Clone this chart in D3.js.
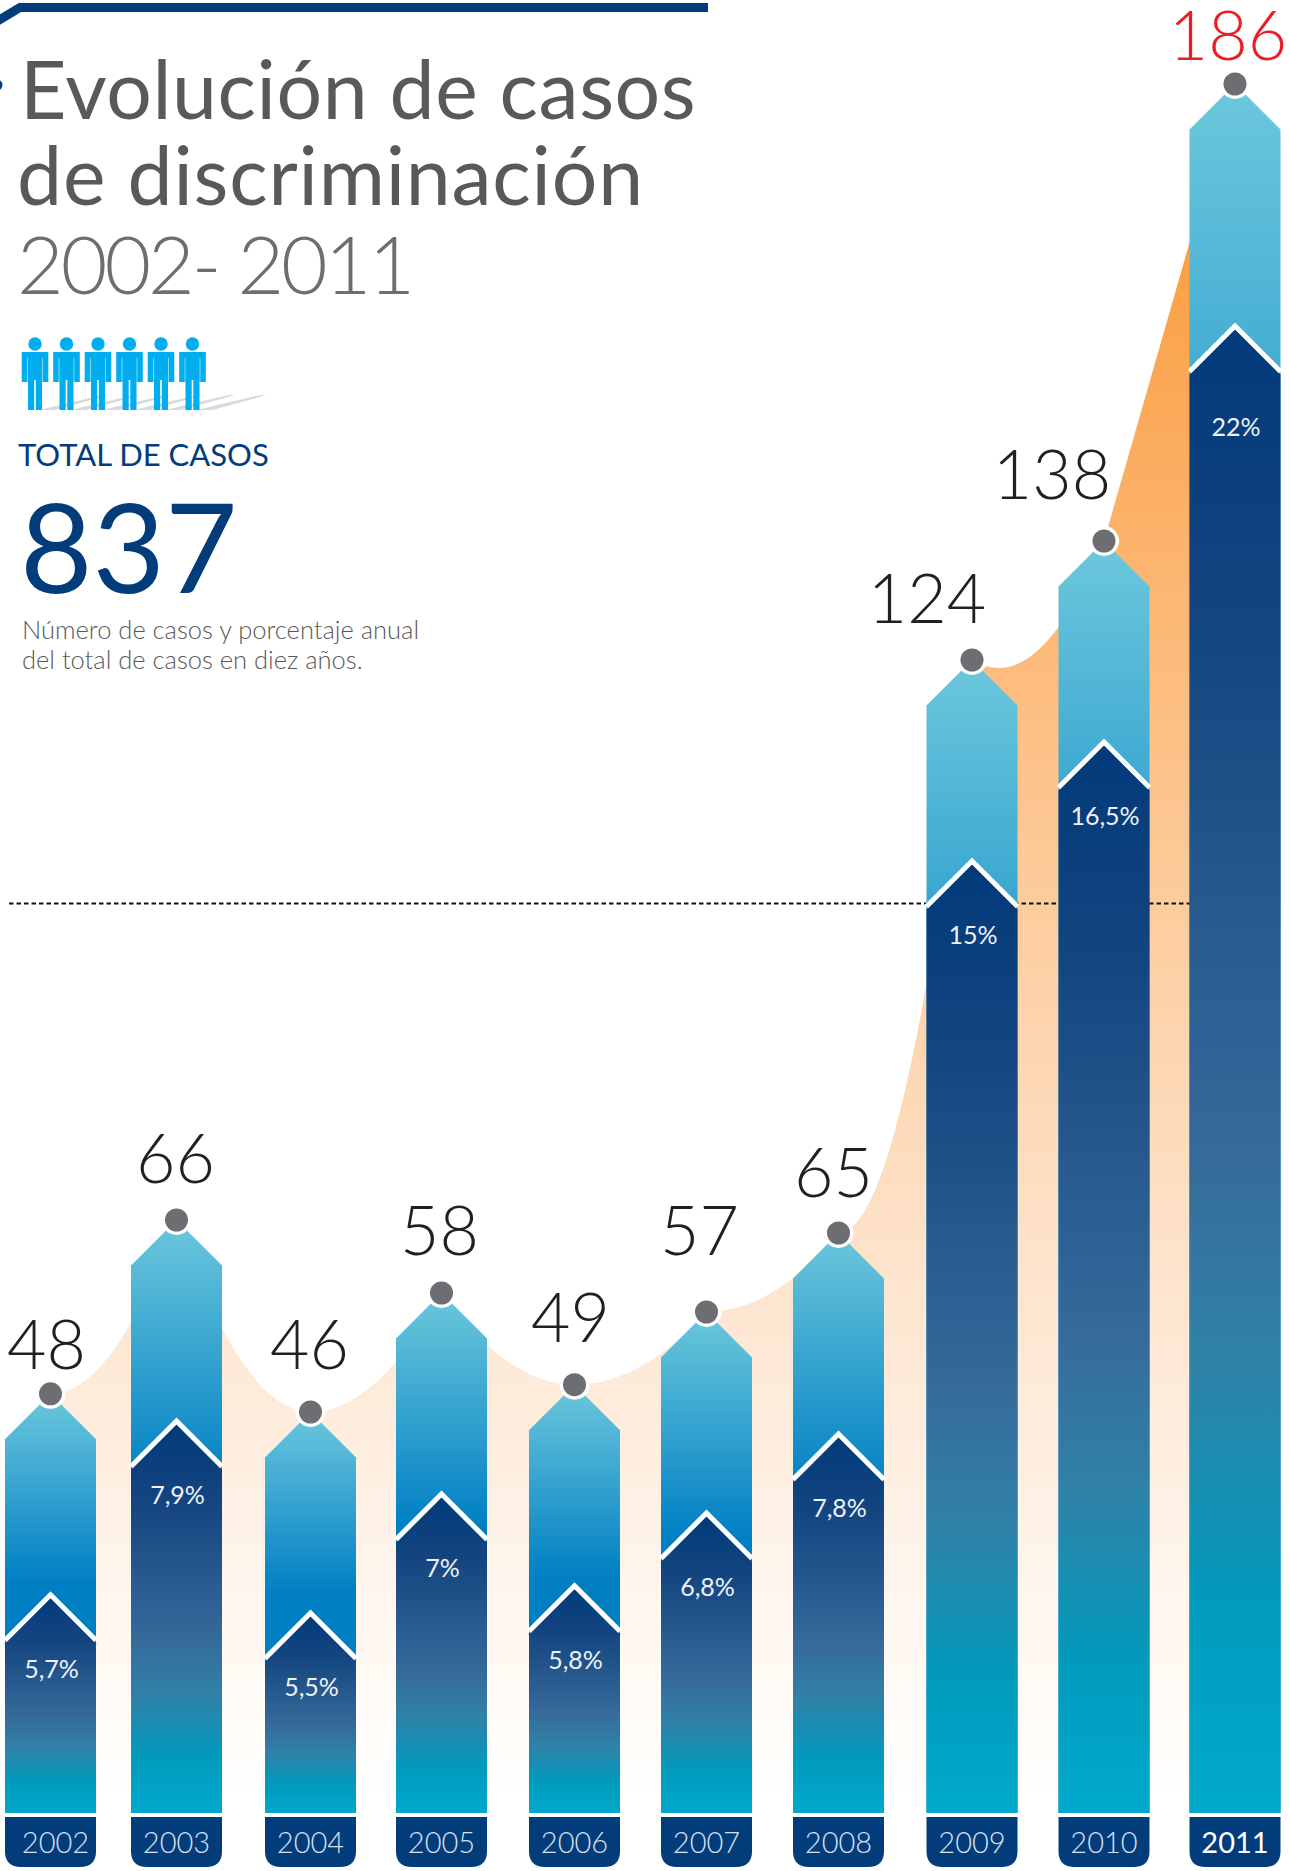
<!DOCTYPE html>
<html lang="es">
<head>
<meta charset="utf-8">
<title>Evolución de casos de discriminación</title>
<script src="https://cdn.jsdelivr.net/npm/d3@7"></script>
<style>
  html, body { margin: 0; padding: 0; background: #fff; }
  svg { display: block; font-family: Lato, "Open Sans", sans-serif; }
</style>
</head>
<body>
<div id="chart"></div>
<script>
// data
const years = ["2002", "2003", "2004", "2005", "2006", "2007", "2008", "2009", "2010", "2011"];
const cases = [48, 66, 46, 58, 49, 57, 65, 124, 138, 186];
const shares = ["5,7%", "7,9%", "5,5%", "7%", "5,8%", "6,8%", "7,8%", "15%", "16,5%", "22%"];

const width = 1290, height = 1871;
const barW = 91, barBottom = 1813, tabTop = 1817, tabBottom = 1867;
const NAVY = "#023c7b";

// the columns are not evenly spaced in the original
const x = d3.scaleOrdinal().domain(years)
    .range([50.5, 176.5, 310.5, 441.5, 574.5, 706.5, 838.5, 972, 1104, 1235]);
// the column heights are not strictly linear either, so the scale is piecewise
const y = d3.scaleLinear()
    .domain([46, 57, 58, 65, 66, 124, 138, 186])
    .range([1412, 1312, 1293, 1233, 1220, 660, 541, 84]);

const rows = years.map((year, i) => ({ year, value: cases[i], share: shares[i], last: i === years.length - 1 }));

// label nudges against the dot: [dx, baseline above the dot]
const labelNudge = [[-4, 25], [-1, 37], [-1, 43], [-2, 38], [-4, 43], [-7, 57], [-5, 36], [-45, 37], [-52, 42], [-7, 24]];

const svg = d3.select("#chart").append("svg")
    .attr("width", width).attr("height", height).attr("viewBox", [0, 0, width, height]);
const defs = svg.append("defs");

function addGradient(id, stops, attrs) {
    const g = defs.append("linearGradient").attr("id", id)
        .attr("x1", 0).attr("x2", 0).attr("y1", 0).attr("y2", 1);
    if (attrs) Object.entries(attrs).forEach(([k, v]) => g.attr(k, v));
    g.selectAll("stop").data(stops).join("stop")
        .attr("offset", d => d[0]).attr("stop-color", d => d[1]);
}
addGradient("areaFill", [[0, "#f9962c"], [0.2, "#fbab5c"], [0.5, "#fdcfa2"], [0.7, "#fde5cf"], [0.88, "#fff6ee"], [1, "#ffffff"]],
    { gradientUnits: "userSpaceOnUse", x1: 0, x2: 0, y1: 84, y2: 1800 });
addGradient("lightFill", [[0, "#6cc8dc"], [0.45, "#007fc3"], [1, "#007fc3"]]);
addGradient("darkFill", [[0, "#023a7a"], [0.2, "#144580"], [0.55, "#366a9a"], [0.7, "#2f82a8"], [0.86, "#009bbd"], [1, "#00a9cc"]]);

// area behind the columns: each stretch hangs from the lower of its two dots
function areaPath() {
    const p = d3.path();
    const px = d => x(d.year), py = d => y(d.value);
    p.moveTo(px(rows[0]), barBottom);
    p.lineTo(px(rows[0]), py(rows[0]));
    d3.pairs(rows).forEach(([a, b]) => {
        if (b.last) { p.lineTo(px(b), py(b)); return; }
        const sag = b.year === "2010" ? 40 : 0; // small dip after 2009
        p.quadraticCurveTo((px(a) + px(b)) / 2, Math.max(py(a), py(b)) + sag, px(b), py(b));
    });
    p.lineTo(px(rows[rows.length - 1]), barBottom);
    p.closePath();
    return p.toString();
}
svg.append("path").attr("d", areaPath()).attr("fill", "url(#areaFill)");

// dashed reference line
svg.append("line").attr("x1", 9).attr("x2", 1190).attr("y1", 903.5).attr("y2", 903.5)
    .attr("stroke", "#111").attr("stroke-width", 2).attr("stroke-dasharray", "4.5 3");

// columns
const dropOf = d => d.last ? 245 : 204; // dot to top of dark chevron
const roof = barW / 2;
const bars = svg.append("g").selectAll("g").data(rows).join("g")
    .attr("transform", d => `translate(${x(d.year)},0)`);

bars.append("path").attr("fill", "url(#lightFill)")
    .attr("d", d => {
        const t = y(d.value);
        return `M${-roof},${barBottom}V${t + roof}L0,${t}L${roof},${t + roof}V${barBottom}Z`;
    });
bars.append("path").attr("fill", "url(#darkFill)")
    .attr("d", d => {
        const t = y(d.value) + dropOf(d);
        return `M${-roof},${barBottom}V${t + roof}L0,${t}L${roof},${t + roof}V${barBottom}Z`;
    });
bars.append("path").attr("fill", "none").attr("stroke", "#fff").attr("stroke-width", 5)
    .attr("d", d => {
        const t = y(d.value) + dropOf(d) - 3;
        return `M${-roof},${t + roof}L0,${t}L${roof},${t + roof}`;
    });

// year tabs
bars.append("path").attr("fill", NAVY)
    .attr("d", () => {
        const r = 16;
        return `M${-roof},${tabTop}H${roof}V${tabBottom - r}Q${roof},${tabBottom} ${roof - r},${tabBottom}` +
            `H${-roof + r}Q${-roof},${tabBottom} ${-roof},${tabBottom - r}Z`;
    });
bars.append("text").attr("text-anchor", "middle").attr("y", 1853)
    .attr("x", d => d.year === "2002" ? 5 : 0)
    .attr("font-size", 29).attr("font-weight", d => d.last ? 400 : 300)
    .attr("fill", d => d.last ? "#fff" : "#d8e0ea").text(d => d.year);

// percentages
bars.append("text").attr("text-anchor", "middle").attr("x", 1)
    .attr("y", d => y(d.value) + dropOf(d) + (d.last ? 107 : 80))
    .attr("font-size", 25).attr("fill", "#eef2f7").text(d => d.share);

// dots
bars.append("circle").attr("cy", d => y(d.value)).attr("r", 15).attr("fill", "#fff");
bars.append("circle").attr("cy", d => y(d.value)).attr("r", 11.5).attr("fill", "#6d6e71");

// values
bars.append("text").attr("text-anchor", "middle")
    .attr("x", (d, i) => labelNudge[i][0])
    .attr("y", (d, i) => y(d.value) - labelNudge[i][1])
    .attr("font-size", 68).attr("font-weight", 300)
    .attr("fill", d => d.last ? "#ed1c24" : "#231f20").text(d => d.value);

// header
svg.append("path").attr("d", "M-4,22L20,7.5H708").attr("fill", "none").attr("stroke", NAVY).attr("stroke-width", 9);
svg.append("circle").attr("cx", -3).attr("cy", 85).attr("r", 5.5).attr("fill", NAVY);

const titleLines = [
    { text: "Evolución de casos", x: 20, y: 118.5, weight: 400, fill: "#58595b", spacing: 0.6 },
    { text: "de discriminación", x: 17, y: 205, weight: 400, fill: "#58595b", spacing: 0.8 },
    { text: "2002- 2011", x: 17, y: 294, weight: 300, fill: "#6d6e71", spacing: -3 }
];
svg.append("g").selectAll("text").data(titleLines).join("text")
    .attr("x", d => d.x).attr("y", d => d.y).attr("font-size", 80.5)
    .attr("letter-spacing", d => d.spacing)
    .attr("font-weight", d => d.weight).attr("fill", d => d.fill).text(d => d.text);

// little crowd
const crowd = d3.range(6);
const people = svg.append("g").selectAll("g").data(crowd).join("g")
    .attr("transform", d => `translate(${35 + d * 31.5},0)`);
people.append("path").attr("fill", "#d9d9d9")
    .attr("d", "M4,410L68,395H74L20,410Z");
people.append("circle").attr("cy", 344).attr("r", 6.7).attr("fill", "#00aeef");
people.append("path").attr("fill", "#00aeef")
    .attr("d", "M-13.3,352H13.3V382H7V410H0.8V380H-0.8V410H-7V382H-13.3Z");
people.append("path").attr("stroke", "#7fd6f7").attr("stroke-width", 1)
    .attr("d", "M-7.5,358V382M7.5,358V382");

svg.append("text").attr("x", 18).attr("y", 465.5).attr("font-size", 31).attr("fill", NAVY).text("TOTAL DE CASOS");
svg.append("text").attr("x", 20).attr("y", 593).attr("font-size", 125).attr("font-weight", 400).attr("fill", NAVY).text("837");

const captionLines = ["Número de casos y porcentaje anual", "del total de casos en diez años."];
svg.append("g").selectAll("text").data(captionLines).join("text")
    .attr("x", 22).attr("y", (d, i) => 638.5 + i * 30).attr("font-size", 25.5).attr("font-weight", 300)
    .attr("fill", "#58595b").text(d => d);
</script>
</body>
</html>
